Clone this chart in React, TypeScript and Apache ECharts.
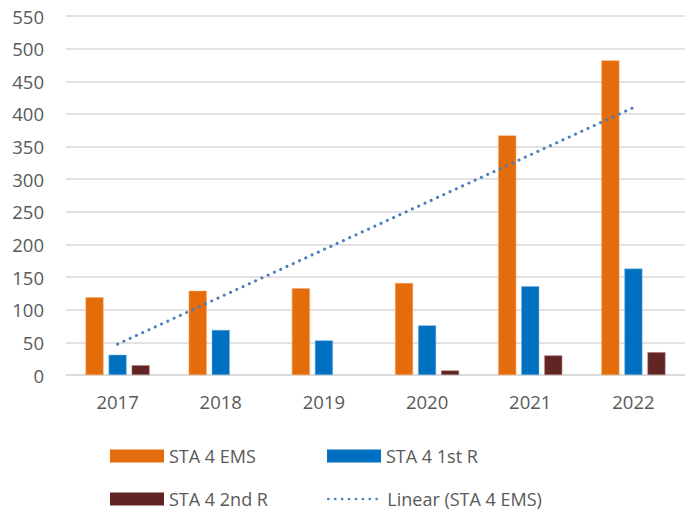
import React, { useEffect, useRef } from "react";
import * as echarts from "echarts";

const years = ["2017", "2018", "2019", "2020", "2021", "2022"];
const emsValues = [119, 129, 133, 141, 367, 482];
const firstRValues = [31, 69, 53, 76, 136, 163];
const secondRValues: (number | null)[] = [15, null, null, 7, 30, 35];
const yTicks = { min: 0, max: 550, interval: 50 };

function linearTrend(values: number[]): number[] {
  const n = values.length;
  const xs = values.map((_, i) => i + 1);
  const mx = xs.reduce((a, b) => a + b, 0) / n;
  const my = values.reduce((a, b) => a + b, 0) / n;
  let num = 0;
  let den = 0;
  for (let i = 0; i < n; i++) {
    num += (xs[i] - mx) * (values[i] - my);
    den += (xs[i] - mx) * (xs[i] - mx);
  }
  const slope = num / den;
  const intercept = my - slope * mx;
  return xs.map((x) => +(intercept + slope * x).toFixed(2));
}

const FONT = "'Open Sans', 'Noto Sans', sans-serif";
const TEXT_COLOR = "#595959";
const TREND_COLOR = "#4a7ebb";

export default function App() {
  const ref = useRef<HTMLDivElement>(null);
  useEffect(() => {
    if (!ref.current) return;
    const chart = echarts.init(ref.current, undefined, { renderer: "svg" });
    const legendText = { fontSize: 18, color: TEXT_COLOR, fontFamily: FONT };
    const mkLegend = (name: string, left: number, top: number, extra: any = {}) => ({
      data: [name],
      left,
      top,
      padding: 0,
      itemWidth: 54,
      itemHeight: 13,
      itemGap: 0,
      icon: "rect",
      itemStyle: { borderWidth: 0 },
      textStyle: legendText,
      selectedMode: false,
      ...extra,
    });
    chart.setOption({
      animation: false,
      backgroundColor: "#ffffff",
      grid: { left: 66, top: 16, width: 621, height: 359, containLabel: false },
      legend: [
        mkLegend("STA 4 EMS", 110, 447),
        mkLegend("STA 4 1st R", 327, 447),
        mkLegend("STA 4 2nd R", 110, 490),
        mkLegend("Linear (STA 4 EMS)", 327, 490, {
          icon: undefined,
          itemStyle: { opacity: 0 },
          lineStyle: { color: TREND_COLOR, width: 2.6, type: [0.1, 6.8], cap: "round" },
        }),
      ],
      xAxis: {
        type: "category",
        data: years,
        axisLine: { show: true, lineStyle: { color: "#d9d9d9", width: 1.5 } },
        axisTick: { show: false },
        axisLabel: { fontSize: 18.5, color: TEXT_COLOR, fontFamily: FONT, margin: 17 },
      },
      yAxis: {
        type: "value",
        min: yTicks.min,
        max: yTicks.max,
        interval: yTicks.interval,
        axisLine: { show: false },
        axisTick: { show: false },
        splitLine: { lineStyle: { color: "#d9d9d9", width: 1.5 } },
        axisLabel: { fontSize: 18.5, color: TEXT_COLOR, fontFamily: FONT, margin: 22 },
      },
      series: [
        {
          name: "STA 4 EMS",
          type: "bar",
          data: emsValues,
          barWidth: 18,
          barGap: "28%",
          itemStyle: { color: "#E46C0A", borderColor: "#f4a66a", borderWidth: 0.5 },
        },
        {
          name: "STA 4 1st R",
          type: "bar",
          data: firstRValues,
          barWidth: 18,
          barGap: "28%",
          itemStyle: { color: "#0070C0", borderColor: "#7fb4e0", borderWidth: 0.5 },
        },
        {
          name: "STA 4 2nd R",
          type: "bar",
          data: secondRValues,
          barWidth: 18,
          barGap: "28%",
          itemStyle: { color: "#632523", borderColor: "#b08a89", borderWidth: 0.5 },
        },
        {
          name: "Linear (STA 4 EMS)",
          type: "line",
          data: linearTrend(emsValues),
          showSymbol: false,
          symbol: "none",
          z: 5,
          itemStyle: { color: TREND_COLOR },
          lineStyle: { color: TREND_COLOR, width: 3, type: [0.1, 6.8], cap: "round" },
        },
      ],
    });
    return () => chart.dispose();
  }, []);
  return (
    <div
      ref={ref}
      style={{ position: "fixed", left: 0, top: 0, width: 685, height: 511 }}
    />
  );
}
